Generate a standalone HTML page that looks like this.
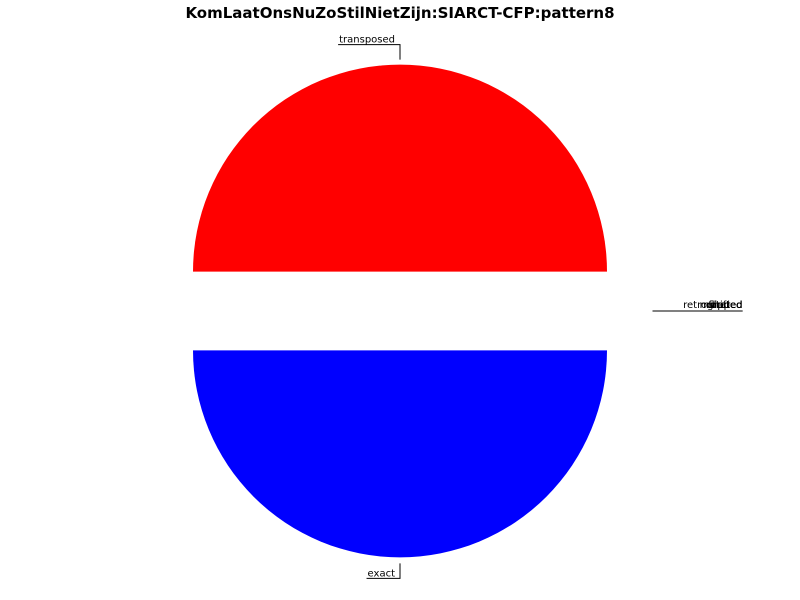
<!DOCTYPE html>
<html><head><meta charset="utf-8"><style>
body{margin:0;background:#fff;}
svg{display:block;font-family:"DejaVu Sans","Liberation Sans",sans-serif;}
</style></head><body>
<svg id="chart" width="800" height="600" viewBox="0 0 800 600">
<text x="400" y="18" text-anchor="middle" font-size="15" font-weight="bold">KomLaatOnsNuZoStilNietZijn:SIARCT-CFP:pattern8</text>
<g id="slices"></g>
<g id="labels"></g>
</svg>
<script>
const categories = ["transposed","exact","rotated","flipped","shifted","mirrored","retrograded"];
const values = [50,50,0,0,0,0,0];
const colors = ["#ff0000","#0000ff","#00ff00","#00ffff","#ff00ff","#ffff00","#000000"];
const explode = [0.19,0.19,0,0,0,0,0];

const cx=400, cy=311, R=207;
const NS="http://www.w3.org/2000/svg";
const gS=document.getElementById('slices'), gL=document.getElementById('labels');
const total=values.reduce((a,b)=>a+b,0);
let ang=0;
function pt(x,y,a,r){return [x+r*Math.cos(a), y-r*Math.sin(a)];}
categories.forEach((c,i)=>{
  const sweep=values[i]/total*2*Math.PI;
  const mid=ang+sweep/2;
  const ox=cx+explode[i]*R*Math.cos(mid), oy=cy-explode[i]*R*Math.sin(mid);
  if(sweep>0){
    const p1=pt(ox,oy,ang,R), p2=pt(ox,oy,ang+sweep,R);
    const large=sweep>Math.PI?1:0;
    const p=document.createElementNS(NS,'path');
    p.setAttribute('d',`M${ox},${oy} L${p1[0]},${p1[1]} A${R},${R} 0 ${large} 0 ${p2[0]},${p2[1]} Z`);
    p.setAttribute('fill',colors[i]);
    
    
    gS.appendChild(p);
  }
  const e=pt(ox,oy,mid,R);
  const line=document.createElementNS(NS,'polyline');
  const t=document.createElementNS(NS,'text');
  t.textContent=c;
  t.setAttribute('font-size','10');
  
  
  gL.appendChild(line); gL.appendChild(t);
  let pts;
  if(Math.abs(Math.cos(mid))<0.3){
    const up=Math.sin(mid)>0;
    const y0=up?e[1]-5:e[1]+6;
    const ly=up?e[1]-20:e[1]+21;
    t.setAttribute('x',e[0]-5); t.setAttribute('y',ly-2); t.setAttribute('text-anchor','end');
    const w=t.getComputedTextLength();
    pts=`${e[0]},${y0} ${e[0]},${ly} ${e[0]-w-6},${ly}`;
  } else {
    const lx=cx+R*1.22;
    pts=`${lx},${cy} ${lx+90},${cy}`;
    t.setAttribute('x',lx+90); t.setAttribute('y',cy-3); t.setAttribute('text-anchor','end');
  }
  line.setAttribute('points',pts);
  line.setAttribute('fill','none');
  line.setAttribute('stroke','#000');
  line.setAttribute('stroke-width','1');
  
  
  ang+=sweep;
});
</script>
</body></html>
